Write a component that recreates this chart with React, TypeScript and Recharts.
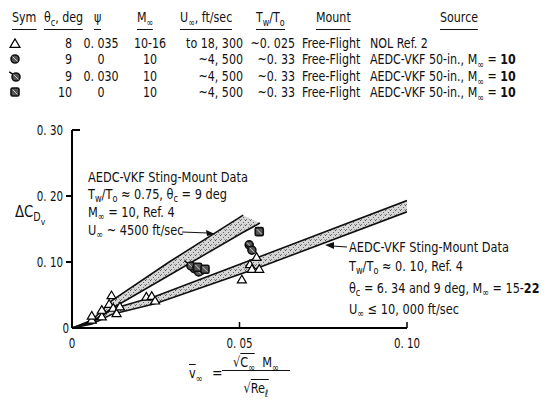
import React from "react";
import { ComposedChart, XAxis, YAxis, Area, Line, Scatter } from "recharts";

const FONT = '"Liberation Sans Narrow", "DejaVu Sans Condensed", "Arial Narrow", sans-serif';

const xTicks = [0, 0.05, 0.1];
const xTickLabels = ["0", "0. 05", "0. 10"];
const yTicks = [0, 0.1, 0.2, 0.3];
const yTickLabels = ["0", "0. 10", "0. 20", "0. 30"];

// NOL free-flight (triangles)
const nolV = [0.0059, 0.0059, 0.0089, 0.0089, 0.0111, 0.0118, 0.0123, 0.0133, 0.0143, 0.0222, 0.0238, 0.0248, 0.0507, 0.0531, 0.0537, 0.0551, 0.0559];
const nolCd = [0.012, 0.018, 0.017, 0.027, 0.036, 0.049, 0.030, 0.022, 0.032, 0.047, 0.048, 0.041, 0.073, 0.096, 0.089, 0.107, 0.089];

// AEDC-VKF 50-in. free-flight, theta 9, psi 0 (slashed circle)
const circV = [0.0365, 0.0385, 0.0529];
const circCd = [0.090, 0.087, 0.126];
// theta 9, psi 0.030 (circle with flag)
const flagV = [0.0355, 0.0378, 0.0537];
const flagCd = [0.094, 0.085, 0.118];
// theta 10, psi 0 (slashed square)
const sqV = [0.0375, 0.0397, 0.0559];
const sqCd = [0.092, 0.089, 0.146];

// sting-mount bands, Tw/To ~ 0.75
const hotTopV = [0, 0.006, 0.012, 0.029, 0.0511];
const hotTopCd = [0, 0.012, 0.042, 0.100, 0.171];
const hotBotV = [0, 0.006, 0.012, 0.029, 0.0511, 0.0561];
const hotBotCd = [0, 0.010, 0.030, 0.080, 0.145, 0.159];
// Tw/To ~ 0.10
const coldV = [0, 0.006, 0.012, 0.025, 0.056, 0.1];
const coldTopCd = [0, 0.008, 0.029, 0.048, 0.108, 0.193];
const coldBotCd = [0, 0.006, 0.021, 0.037, 0.092, 0.176];

const pts = (v: number[], cd: number[]) => v.map((x, i) => ({ v: x, cd: cd[i] }));
const nolData = pts(nolV, nolCd);
const circData = pts(circV, circCd);
const flagData = pts(flagV, flagCd);
const sqData = pts(sqV, sqCd);
const hotTop = pts(hotTopV, hotTopCd);
const hotBot = pts(hotBotV, hotBotCd);
const hotBand = hotBotV.map((x, i) => ({
  v: x,
  range: [hotBotCd[i], i < hotTopCd.length ? hotTopCd[i] : hotBotCd[i]],
}));
const coldTop = pts(coldV, coldTopCd);
const coldBot = pts(coldV, coldBotCd);
const coldBand = coldV.map((x, i) => ({ v: x, range: [coldBotCd[i], coldTopCd[i]] }));

function Tri({ cx, cy, s = 9 }: any) {
  const h = s * 0.85;
  return (
    <polygon
      points={`${cx},${cy - h * 0.6} ${cx - s / 2},${cy + h * 0.4} ${cx + s / 2},${cy + h * 0.4}`}
      fill="#fff"
      stroke="#000"
      strokeWidth={1.2}
    />
  );
}

function SlashCircle({ cx, cy, r = 4, flag = false }: any) {
  return (
    <g>
      {flag && <line x1={cx - r * 0.6} y1={cy - r * 0.6} x2={cx - r * 1.7} y2={cy - r * 1.3} stroke="#000" strokeWidth={1.4} />}
      <circle cx={cx} cy={cy} r={r} fill="#555" stroke="#111" strokeWidth={1.6} />
      <line x1={cx - r * 0.6} y1={cy - r * 0.6} x2={cx + r * 0.6} y2={cy + r * 0.6} stroke="#ccc" strokeWidth={1} />
    </g>
  );
}

function SlashSquare({ cx, cy, r = 4 }: any) {
  return (
    <g>
      <rect x={cx - r} y={cy - r} width={r * 2} height={r * 2} rx={1.5} fill="#555" stroke="#111" strokeWidth={1.6} />
      <line x1={cx - r * 0.6} y1={cy - r * 0.6} x2={cx + r * 0.6} y2={cy + r * 0.6} stroke="#ccc" strokeWidth={1} />
    </g>
  );
}

function YTick({ x, y, payload }: any) {
  const v = payload.value;
  const label = yTickLabels[yTicks.indexOf(v)];
  const tx = x - (v === 0 ? 3 : 9);
  return (
    <g>
      {v === 0.3 && <line x1={x} x2={x + 8} y1={y} y2={y} stroke="#000" strokeWidth={2} />}
      {v > 0 && v < 0.3 && <line x1={x - 6} x2={x} y1={y} y2={y} stroke="#000" strokeWidth={2} />}
      <text transform={`translate(${tx},${y}) scale(0.85,1)`} dy="0.36em" textAnchor="end" fontSize={13.5} fontFamily={FONT} fill="#111">
        {label}
      </text>
    </g>
  );
}

function XTick({ x, y, payload }: any) {
  const v = payload.value;
  const label = xTickLabels[xTicks.indexOf(v)];
  return (
    <g>
      {v > 0 && <line x1={x} x2={x} y1={y} y2={y - 6} stroke="#000" strokeWidth={1.5} />}
      <text transform={`translate(${x},${y + 15}) scale(0.85,1)`} dy="0.36em" textAnchor="middle" fontSize={13.5} fontFamily={FONT} fill="#111">
        {label}
      </text>
    </g>
  );
}

const Sub = ({ children, s = 0.72, d = 0.35 }: any) => (
  <span style={{ fontSize: `${s}em`, position: "relative", top: `${d}em` }}>{children}</span>
);

// text box anchored at x (left / right / center), vertically centred on cy, squeezed by k
const txt = (x: number, cy: number, size: number, k = 1, align = "left", extra: any = {}) => ({
  position: "absolute" as const,
  left: x,
  top: cy - size / 2,
  fontSize: size,
  lineHeight: 1,
  whiteSpace: "nowrap" as const,
  color: "#111",
  transform:
    align === "right"
      ? `translateX(-100%) scaleX(${k})`
      : align === "center"
      ? `translateX(-50%) scaleX(${k})`
      : `scaleX(${k})`,
  transformOrigin: align === "right" ? "right center" : align === "center" ? "center center" : "left center",
  ...extra,
});

const SymIcon = ({ kind, cy }: { kind: string; cy: number }) => (
  <svg width={16} height={14} style={{ position: "absolute", left: 7, top: cy - 7 }}>
    {kind === "tri" && <Tri cx={8} cy={8} s={10} />}
    {kind === "circ" && <SlashCircle cx={8} cy={7} r={4} />}
    {kind === "flag" && <SlashCircle cx={9} cy={8} r={4} flag />}
    {kind === "sq" && <SlashSquare cx={8} cy={7} r={4} />}
  </svg>
);

const headers: [number, React.ReactNode][] = [
  [12, "Sym"],
  [44, <>θ<Sub>c</Sub>, deg</>],
  [94, "ψ"],
  [137, <>M<Sub>∞</Sub></>],
  [180, <>U<Sub>∞</Sub>, ft/sec</>],
  [256, <>T<Sub>w</Sub>/T<Sub>o</Sub></>],
  [316, "Mount"],
  [440, "Source"],
];

const rowSyms = ["tri", "circ", "flag", "sq"];
const rowTheta = ["8", "9", "9", "10"];
const rowPsi = ["0. 035", "0", "0. 030", "0"];
const rowMach = ["10-16", "10", "10", "10"];
const rowU = ["to 18, 300", "~4, 500", "~4, 500", "~4, 500"];
const rowTw = ["~0. 025", "~0. 33", "~0. 33", "~0. 33"];
const rowY = [43, 59, 76, 92];

function Table() {
  const f = 14;
  const k = 0.88;
  return (
    <>
      {headers.map(([x, h], i) => (
        <div key={i} style={txt(x, 17, f, k, "left", { borderBottom: "1.5px solid #111", paddingBottom: 5 })}>
          {h}
        </div>
      ))}
      {rowY.map((y, i) => (
        <React.Fragment key={i}>
          <SymIcon kind={rowSyms[i]} cy={y} />
          <div style={txt(72, y, f, k, "right")}>{rowTheta[i]}</div>
          <div style={txt(101, y, f, k, "center")}>{rowPsi[i]}</div>
          <div style={txt(150, y, f, k, "center")}>{rowMach[i]}</div>
          <div style={txt(243, y, f, k, "right")}>{rowU[i]}</div>
          <div style={txt(295, y, f, k, "right")}>{rowTw[i]}</div>
          <div style={txt(302, y, f, k)}>Free-Flight</div>
          <div style={txt(370, y, f, k)}>
            {i === 0 ? (
              "NOL Ref. 2"
            ) : (
              <>
                AEDC-VKF 50-in., M<Sub>∞</Sub> = <b>10</b>
              </>
            )}
          </div>
        </React.Fragment>
      ))}
    </>
  );
}

function Annotations() {
  const f = 14.5;
  const k = 0.87;
  return (
    <>
      <div style={txt(88, 177, f, k)}>AEDC-VKF Sting-Mount Data</div>
      <div style={txt(88, 194, f, k)}>
        T<Sub>w</Sub>/T<Sub>o</Sub> ≈ 0.75, θ<Sub>c</Sub> = 9 deg
      </div>
      <div style={txt(88, 212, f, k)}>
        M<Sub>∞</Sub> = 10, Ref. 4
      </div>
      <div style={txt(88, 230, f, k)}>
        U<Sub>∞</Sub> ~ 4500 ft/sec
      </div>

      <div style={txt(349, 247, f, k)}>AEDC-VKF Sting-Mount Data</div>
      <div style={txt(349, 266, f, k)}>
        T<Sub>w</Sub>/T<Sub>o</Sub> ≈ 0. 10, Ref. 4
      </div>
      <div style={txt(349, 288, f, 0.86)}>
        θ<Sub>c</Sub> = 6. 34 and 9 deg, M<Sub>∞</Sub> = 15-<b>22</b>
      </div>
      <div style={txt(349, 309, f, k)}>
        U<Sub>∞</Sub> ≤ 10, 000 ft/sec
      </div>

      <div style={txt(15, 212, 16, 0.92)}>
        ΔC
        <span style={{ fontSize: "0.72em", position: "relative", top: "0.35em" }}>
          D<span style={{ fontSize: "0.8em", position: "relative", top: "0.4em" }}>v</span>
        </span>
      </div>

      <div style={txt(189, 373, 14, 0.9)}>
        <span style={{ textDecoration: "overline" }}>v</span>
        <Sub>∞</Sub>
      </div>
      <div style={txt(212, 373, 14)}>=</div>
      <div style={txt(256, 362, 14, 0.9, "center")}>
        √<span style={{ borderTop: "1px solid #111" }}>C<Sub>∞</Sub></span>&nbsp; M<Sub>∞</Sub>
      </div>
      <div style={{ position: "absolute", left: 222, top: 370, width: 68, borderTop: "1.2px solid #111" }} />
      <div style={txt(256, 388, 14, 0.9, "center")}>
        √<span style={{ borderTop: "1px solid #111" }}>Re<Sub>ℓ</Sub></span>
      </div>

      <svg width={558} height={403} style={{ position: "absolute", left: 0, top: 0 }}>
        <line x1={182} y1={232} x2={208} y2={233} stroke="#111" strokeWidth={1.2} />
        <polygon points="215,234 206,230 207,236" fill="#111" />
        <line x1={347} y1={247} x2={332} y2={246} stroke="#111" strokeWidth={1.2} />
        <polygon points="325,245 334,242 334,249" fill="#111" />
      </svg>
    </>
  );
}

export default function App() {
  return (
    <div style={{ position: "absolute", left: 0, top: 0, width: 558, height: 403, background: "#fff", fontFamily: FONT, overflow: "hidden" }}>
      <ComposedChart width={558} height={403} margin={{ top: 130, right: 151, bottom: 55, left: 42 }}>
        <defs>
          <pattern id="stipple" width="5" height="5" patternUnits="userSpaceOnUse">
            <rect width="5" height="5" fill="#d6d6d6" />
            <rect x="0" y="0" width="1" height="1" fill="#555" />
            <rect x="3" y="2" width="1" height="1" fill="#666" />
            <rect x="1" y="4" width="1" height="1" fill="#777" />
            <rect x="4" y="4" width="1" height="1" fill="#999" />
          </pattern>
        </defs>
        <XAxis
          type="number"
          dataKey="v"
          domain={[0, 0.1]}
          ticks={xTicks}
          height={20}
          tickSize={0}
          tickMargin={0}
          tickLine={false}
          axisLine={{ stroke: "#000", strokeWidth: 2 }}
          tick={<XTick />}
          allowDataOverflow
        />
        <YAxis
          type="number"
          dataKey="cd"
          domain={[0, 0.3]}
          ticks={yTicks}
          width={30}
          tickSize={0}
          tickMargin={0}
          tickLine={false}
          axisLine={{ stroke: "#000", strokeWidth: 2 }}
          tick={<YTick />}
          allowDataOverflow
        />
        <Area data={hotBand} dataKey="range" type="linear" stroke="none" fill="url(#stipple)" fillOpacity={1} isAnimationActive={false} />
        <Area data={coldBand} dataKey="range" type="linear" stroke="none" fill="url(#stipple)" fillOpacity={1} isAnimationActive={false} />
        <Line data={hotTop} dataKey="cd" type="linear" stroke="#111" strokeWidth={1.6} dot={false} isAnimationActive={false} />
        <Line data={hotBot} dataKey="cd" type="linear" stroke="#111" strokeWidth={1.6} dot={false} isAnimationActive={false} />
        <Line data={coldTop} dataKey="cd" type="linear" stroke="#111" strokeWidth={1.6} dot={false} isAnimationActive={false} />
        <Line data={coldBot} dataKey="cd" type="linear" stroke="#111" strokeWidth={1.6} dot={false} isAnimationActive={false} />
        <Scatter data={nolData} dataKey="cd" shape={(p: any) => <Tri cx={p.cx} cy={p.cy} />} isAnimationActive={false} />
        <Scatter data={circData} dataKey="cd" shape={(p: any) => <SlashCircle cx={p.cx} cy={p.cy} />} isAnimationActive={false} />
        <Scatter data={flagData} dataKey="cd" shape={(p: any) => <SlashCircle cx={p.cx} cy={p.cy} flag />} isAnimationActive={false} />
        <Scatter data={sqData} dataKey="cd" shape={(p: any) => <SlashSquare cx={p.cx} cy={p.cy} />} isAnimationActive={false} />
      </ComposedChart>
      <Table />
      <Annotations />
    </div>
  );
}
